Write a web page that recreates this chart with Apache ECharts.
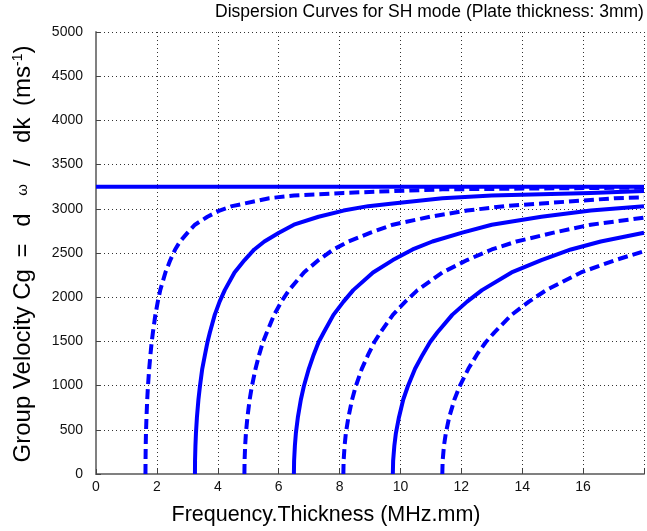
<!DOCTYPE html>
<html>
<head>
<meta charset="utf-8">
<script src="https://cdn.jsdelivr.net/npm/echarts@6/dist/echarts.min.js"></script>
<style>
html,body{margin:0;padding:0;background:#fff;}
#chart{width:647px;height:531px;}
</style>
</head>
<body>
<div id="chart"></div>
<script>
// ---- Data ----
const chartTitle = 'Dispersion Curves for SH mode (Plate thickness: 3mm)';
const xAxisName = 'Frequency.Thickness (MHz.mm)';
const yAxisName = 'Group Velocity Cg {g|=} {g|d} {w|ω} {g|/} {g|dk} (ms{s|-1})';

// mode 0 (solid, non-dispersive)
const mode0X = [0, 18];
const mode0Y = [3250, 3250];
// mode 1 (dashed)
const mode1X = [1.625, 1.627, 1.633, 1.641, 1.658, 1.682, 1.706, 1.747, 1.788, 1.828, 1.869, 1.95, 2.03, 2.11, 2.28, 2.44, 2.6, 2.76, 3.01, 3.25, 3.66, 4.06, 4.47, 4.88, 5.69, 6.5, 8.13, 9.75, 11.38, 14.63, 18];
const mode1Y = [0, 150, 320, 460, 640, 840, 990, 1190, 1350, 1490, 1600, 1800, 1950, 2080, 2280, 2420, 2540, 2630, 2730, 2820, 2910, 2980, 3030, 3060, 3120, 3150, 3180, 3200, 3220, 3230, 3240];
// mode 2 (solid)
const mode2X = [3.25, 3.253, 3.266, 3.283, 3.315, 3.364, 3.413, 3.49, 3.58, 3.66, 3.74, 3.9, 4.06, 4.23, 4.55, 4.88, 5.2, 5.53, 6.01, 6.5, 7.31, 8.13, 8.94, 9.75, 11.38, 13, 16.25, 18];
const mode2Y = [0, 150, 320, 460, 640, 840, 990, 1190, 1350, 1490, 1600, 1800, 1950, 2080, 2280, 2420, 2540, 2630, 2730, 2820, 2910, 2980, 3030, 3060, 3120, 3150, 3180, 3200];
// mode 3 (dashed)
const mode3X = [4.875, 4.88, 4.899, 4.924, 4.973, 5.046, 5.119, 5.24, 5.36, 5.48, 5.61, 5.85, 6.09, 6.34, 6.83, 7.31, 7.8, 8.29, 9.02, 9.75, 10.97, 12.19, 13.41, 14.63, 17.06, 18];
const mode3Y = [0, 150, 320, 460, 640, 840, 990, 1190, 1350, 1490, 1600, 1800, 1950, 2080, 2280, 2420, 2540, 2630, 2730, 2820, 2910, 2980, 3030, 3060, 3120, 3130];
// mode 4 (solid)
const mode4X = [6.5, 6.507, 6.533, 6.565, 6.63, 6.728, 6.825, 6.99, 7.15, 7.31, 7.48, 7.8, 8.13, 8.45, 9.1, 9.75, 10.4, 11.05, 12.03, 13, 14.63, 16.25, 18];
const mode4Y = [0, 150, 320, 460, 640, 840, 990, 1190, 1350, 1490, 1600, 1800, 1950, 2080, 2280, 2420, 2540, 2630, 2730, 2820, 2910, 2980, 3030];
// mode 5 (dashed)
const mode5X = [8.125, 8.133, 8.166, 8.206, 8.29, 8.41, 8.53, 8.73, 8.94, 9.14, 9.34, 9.75, 10.16, 10.56, 11.38, 12.19, 13, 13.81, 15.03, 16.25, 18];
const mode5Y = [0, 150, 320, 460, 640, 840, 990, 1190, 1350, 1490, 1600, 1800, 1950, 2080, 2280, 2420, 2540, 2630, 2730, 2820, 2900];
// mode 6 (solid)
const mode6X = [9.75, 9.76, 9.8, 9.85, 9.95, 10.09, 10.24, 10.48, 10.73, 10.97, 11.21, 11.7, 12.19, 12.68, 13.65, 14.63, 15.6, 16.58, 18];
const mode6Y = [0, 150, 320, 460, 640, 840, 990, 1190, 1350, 1490, 1600, 1800, 1950, 2080, 2280, 2420, 2540, 2630, 2730];
// mode 7 (dashed)
const mode7X = [11.375, 11.386, 11.43, 11.49, 11.6, 11.77, 11.94, 12.23, 12.51, 12.8, 13.08, 13.65, 14.22, 14.79, 15.93, 17.06, 18];
const mode7Y = [0, 150, 320, 460, 640, 840, 990, 1190, 1350, 1490, 1600, 1800, 1950, 2080, 2280, 2420, 2520];

const xMin = 0, xMax = 18, xStep = 2;
const yMin = 0, yMax = 5000, yStep = 500;

// ---- Build chart ----
const FONT = '"Liberation Sans", Arial, Helvetica, sans-serif';
const BLUE = '#0000ff';
const modes = [
  {x: mode0X, y: mode0Y, dashed: false},
  {x: mode1X, y: mode1Y, dashed: true},
  {x: mode2X, y: mode2Y, dashed: false},
  {x: mode3X, y: mode3Y, dashed: true},
  {x: mode4X, y: mode4Y, dashed: false},
  {x: mode5X, y: mode5Y, dashed: true},
  {x: mode6X, y: mode6Y, dashed: false},
  {x: mode7X, y: mode7Y, dashed: true}
];

const zip = (xs, ys) => xs.map((v, i) => [v, ys[i]]);

const gridLine = {show: true, lineStyle: {color: '#333', width: 1, type: [1, 3]}};

const option = {
  animation: false,
  backgroundColor: '#fff',
  textStyle: {fontFamily: FONT},
  title: {
    text: chartTitle,
    left: 215, top: 3, padding: 0,
    textStyle: {fontFamily: FONT, fontSize: 17.5, fontWeight: 'normal', color: '#000'}
  },
  grid: {left: 96, right: 0, top: 32, bottom: 57, containLabel: false},
  xAxis: {
    type: 'value', min: xMin, max: xMax, interval: xStep,
    name: xAxisName, nameLocation: 'middle', nameGap: 30,
    nameTextStyle: {fontFamily: FONT, fontSize: 21.5, color: '#000', padding: [0, 88, 0, 0]},
    axisLine: {show: true, onZero: false, lineStyle: {color: '#808080', width: 2}},
    axisTick: {show: true, inside: true, length: 5, lineStyle: {color: '#444'}},
    axisLabel: {fontFamily: FONT, fontSize: 14, color: '#111', margin: 6,
      formatter: v => (v >= xMax ? '' : String(v))},
    splitLine: gridLine
  },
  yAxis: {
    type: 'value', min: yMin, max: yMax, interval: yStep,
    name: yAxisName, nameLocation: 'middle', nameGap: 61,
    nameTextStyle: {fontFamily: FONT, fontSize: 24, color: '#000', padding: [0, 2, 0, 0],
      rich: {
        g: {fontFamily: FONT, fontSize: 24, color: '#000', padding: [0, 5, 0, 5]},
        w: {fontFamily: FONT, fontSize: 15, color: '#000', padding: [0, 6, 0, 6]},
        s: {fontFamily: FONT, fontSize: 14, color: '#000', verticalAlign: 'top'}
      }},
    axisLine: {show: true, onZero: false, lineStyle: {color: '#808080', width: 2}},
    axisTick: {show: true, inside: true, length: 5, lineStyle: {color: '#444'}},
    axisLabel: {fontFamily: FONT, fontSize: 14, color: '#111', margin: 13,
      formatter: v => String(v)},
    splitLine: gridLine
  },
  series: modes.map((m, i) => ({
    type: 'line',
    name: 'SH' + i,
    data: zip(m.x, m.y),
    showSymbol: false,
    smooth: false,
    clip: true,
    lineStyle: {color: BLUE, width: 4, type: m.dashed ? [10, 5] : 'solid', cap: 'butt', join: 'round'}
  }))
};

const chart = echarts.init(document.getElementById('chart'), null, {renderer: 'canvas'});
chart.setOption(option);
</script>
</body>
</html>
